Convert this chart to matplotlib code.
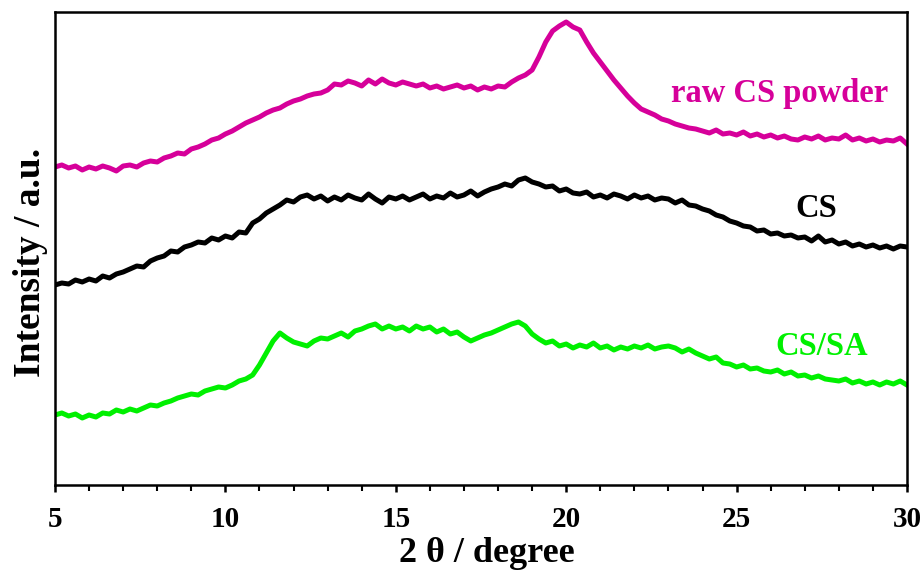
import numpy as np
import matplotlib
matplotlib.use("Agg")
import matplotlib.pyplot as plt

# 2-theta grid, 0.2 degree steps from 5 to 30
two_theta = np.round(np.arange(5.0, 30.0001, 0.2), 1)

# intensities (a.u.), one row per degree
raw_cs = [
    322, 324, 321, 323, 319,
    322, 320, 323, 321, 318,
    323, 324, 322, 326, 328,
    327, 331, 333, 336, 335,
    340, 342, 345, 349, 351,
    355, 358, 362, 366, 369,
    372, 376, 379, 381, 385,
    388, 390, 393, 395, 396,
    399, 405, 404, 408, 406,
    403, 409, 405, 410, 406,
    404, 407, 405, 403, 405,
    401, 403, 400, 402, 404,
    401, 403, 399, 402, 400,
    403, 402, 407, 411, 414,
    419, 432, 447, 458, 463,
    467, 462, 459, 447, 436,
    427, 418, 409, 401, 393,
    386, 380, 377, 374, 370,
    368, 365, 363, 361, 360,
    358, 356, 359, 355, 356,
    354, 357, 353, 355, 352,
    354, 351, 353, 350, 349,
    352, 350, 353, 349, 351,
    350, 354, 349, 351, 348,
    350, 347, 349, 348, 351,
    345,
]

cs = [
    204, 206, 205, 209, 207,
    210, 208, 213, 211, 215,
    217, 220, 223, 222, 228,
    231, 233, 238, 237, 242,
    244, 247, 246, 251, 249,
    253, 251, 257, 256, 266,
    270, 276, 280, 284, 289,
    287, 292, 294, 290, 293,
    288, 292, 289, 294, 291,
    289, 295, 290, 286, 292,
    290, 293, 289, 292, 295,
    290, 293, 291, 296, 292,
    294, 298, 293, 297, 300,
    302, 305, 303, 309, 311,
    307, 305, 302, 303, 298,
    300, 296, 295, 297, 292,
    294, 291, 295, 293, 290,
    294, 291, 293, 289, 291,
    290, 286, 289, 284, 283,
    280, 278, 274, 272, 268,
    266, 263, 262, 258, 259,
    255, 256, 253, 254, 251,
    252, 248, 253, 247, 249,
    245, 247, 243, 245, 242,
    244, 241, 243, 240, 243,
    242,
]

cs_sa = [
    74, 76, 73, 75, 71,
    74, 72, 76, 75, 79,
    77, 80, 78, 81, 84,
    83, 86, 88, 91, 93,
    95, 94, 98, 100, 102,
    101, 104, 108, 110, 114,
    124, 136, 148, 156, 151,
    147, 145, 143, 148, 151,
    150, 153, 156, 152, 158,
    160, 163, 165, 160, 163,
    160, 162, 158, 163, 160,
    162, 157, 160, 155, 157,
    152, 148, 151, 154, 156,
    159, 162, 165, 167, 163,
    155, 150, 146, 148, 143,
    145, 141, 144, 142, 146,
    141, 143, 139, 142, 140,
    143, 141, 144, 140, 142,
    143, 141, 137, 140, 136,
    133, 130, 132, 126, 125,
    122, 124, 120, 121, 118,
    117, 119, 115, 117, 113,
    114, 111, 113, 110, 109,
    108, 110, 106, 108, 105,
    107, 104, 107, 105, 108,
    104,
]

labels = ["raw CS powder", "CS", "CS/SA"]
colors = ["#D6009A", "black", "#00F000"]

plt.rcParams['font.family'] = ['Liberation Serif', 'DejaVu Serif']
plt.rcParams['font.weight'] = 'bold'

fig = plt.figure(figsize=(9.22, 5.74), dpi=100)
ax = fig.add_axes([55 / 922, 1 - 485 / 574, 852 / 922, 473 / 574])

for y, c in zip([raw_cs, cs, cs_sa], colors):
    ax.plot(two_theta, y, color=c, lw=3.6, solid_joinstyle='round')

ax.set_xlim(5, 30)
ax.set_ylim(4, 477)
ax.set_xticks(np.arange(5, 31, 5))
ax.set_xticks(np.arange(5, 31, 1), minor=True)
ax.set_yticks([])
ax.tick_params(axis='x', which='major', direction='out', length=5, width=1.8,
               labelsize=21, pad=10)
ax.tick_params(axis='x', which='minor', direction='out', length=4, width=1.5)
for s in ax.spines.values():
    s.set_linewidth(1.8)

ax.set_xlabel("2 θ / degree", fontsize=26, fontweight='bold')
ax.xaxis.set_label_coords(0.507, -0.11)
ax.set_ylabel("Intensity / a.u.", fontsize=27, fontweight='bold')
ax.yaxis.set_label_coords(-0.008, 0.47)

ax.text(26.25, 387, labels[0], color=colors[0], fontsize=23.5, fontweight='bold',
        ha='center', va='baseline')
ax.text(27.35, 272, labels[1], color=colors[1], fontsize=23.5, fontweight='bold',
        ha='center', va='baseline')
ax.text(27.5, 134, labels[2], color=colors[2], fontsize=23.5, fontweight='bold',
        ha='center', va='baseline')

fig.savefig("out.png", dpi=100)
